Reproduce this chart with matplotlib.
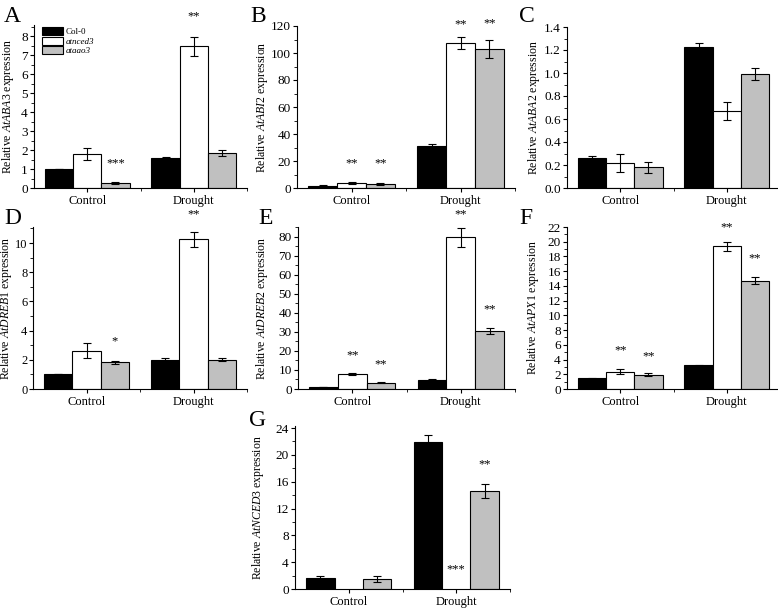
import matplotlib
matplotlib.use("Agg")
import matplotlib.pyplot as plt
from matplotlib.ticker import MultipleLocator, FixedLocator
import numpy as np

plt.rcParams['font.family'] = ['Liberation Serif', 'DejaVu Serif']
plt.rcParams['mathtext.fontset'] = 'custom'
plt.rcParams['mathtext.rm'] = 'Liberation Serif'
plt.rcParams['mathtext.it'] = 'Liberation Serif:italic'

groups = ["Control", "Drought"]
genotypes = ["Col-0", "atnced3", "ataao3"]
colors = ["black", "white", "#c0c0c0"]

# panel data: values[genotype][group], errors[genotype][group]
A_vals = [[1.0, 1.58], [1.8, 7.45], [0.27, 1.85]]
A_errs = [[0.0, 0.07], [0.3, 0.5], [0.04, 0.15]]
B_vals = [[1.5, 31.0], [3.8, 107.5], [3.0, 103.0]]
B_errs = [[0.5, 1.5], [0.8, 4.5], [0.8, 6.5]]
C_vals = [[0.26, 1.23], [0.22, 0.67], [0.18, 0.99]]
C_errs = [[0.015, 0.03], [0.08, 0.075], [0.05, 0.05]]
D_vals = [[1.0, 1.97], [2.62, 10.25], [1.82, 2.02]]
D_errs = [[0.0, 0.13], [0.5, 0.5], [0.1, 0.08]]
E_vals = [[1.0, 4.8], [7.8, 79.5], [3.3, 30.5]]
E_errs = [[0.0, 0.2], [0.5, 4.8], [0.3, 1.5]]
F_vals = [[1.45, 3.2], [2.35, 19.4], [1.95, 14.7]]
F_errs = [[0.05, 0.1], [0.3, 0.6], [0.2, 0.5]]
G_vals = [[1.6, 21.9], [0.0, 0.0], [1.55, 14.6]]
G_errs = [[0.3, 1.1], [0.0, 0.0], [0.45, 1.1]]

# significance marks: (genotype index, group index, text, y position)
A_sig = [(2, 0, "***", 1.3), (1, 1, "**", 9.05)]
B_sig = [(1, 0, "**", 18.5), (2, 0, "**", 18.5), (1, 1, "**", 121), (2, 1, "**", 122)]
C_sig = []
D_sig = [(2, 0, "*", 3.25), (1, 1, "**", 12.0)]
E_sig = [(1, 0, "**", 17.5), (2, 0, "**", 12.8), (1, 1, "**", 91.5), (2, 1, "**", 41.8)]
F_sig = [(1, 0, "**", 5.2), (2, 0, "**", 4.5), (1, 1, "**", 21.9), (2, 1, "**", 17.8)]
G_sig = [(1, 1, "***", 3.0), (2, 1, "**", 18.6)]

W, H = 778, 609
fig = plt.figure(figsize=(W / 100, H / 100), dpi=100)

def ax_px(l, t, r, b):
    return fig.add_axes([l / W, 1 - b / H, (r - l) / W, (b - t) / H])

panels = [
    ("A", (34, 25, 247, 188), A_vals, A_errs, A_sig, "AtABA3", 8.58, 1, 0.5, (4, 6), 16),
    ("B", (297, 26, 515, 188), B_vals, B_errs, B_sig, "AtABI2", 120, 20, 10, (250, 6), 270),
    ("C", (567, 27, 780, 188), C_vals, C_errs, C_sig, "AtABA2", 1.4, 0.2, 0.1, (519, 6), 542),
    ("D", (33, 227, 247, 389), D_vals, D_errs, D_sig, "AtDREB1", 11.1, 2, 1, (4, 208), 14.5),
    ("E", (298, 227, 515, 389), E_vals, E_errs, E_sig, "AtDREB2", 85, 10, 5, (258, 208), 270),
    ("F", (567, 227, 780, 389), F_vals, F_errs, F_sig, "AtAPX1", 22, 2, 1, (519, 208), 541),
    ("G", (295, 426, 510, 589), G_vals, G_errs, G_sig, "AtNCED3", 24.3, 4, 2, (249, 410), 266),
]

bw = 0.265
x = np.arange(len(groups))
for label, box, vals, errs, sigs, gene, ymax, major, minor, lpos, ylx in panels:
    ax = ax_px(*box)
    for i in range(3):
        xs = x + (i - 1) * bw
        if label == "G" and i == 1:
            continue
        ax.bar(xs, vals[i], bw, color=colors[i], edgecolor="black", linewidth=0.8,
               label=genotypes[i], zorder=2)
        ax.errorbar(xs, vals[i], yerr=errs[i], fmt="none", ecolor="black",
                    elinewidth=0.8, capsize=3, capthick=0.8, zorder=3)
    for gi, grp, txt, yv in sigs:
        ax.text(x[grp] + (gi - 1) * bw, yv, txt, ha="center", va="center",
                fontsize=9, clip_on=False)
    ax.set_xlim(-0.5, 1.5)
    ax.set_ylim(0, ymax)
    ax.set_xticks(x)
    ax.set_xticklabels(groups, fontsize=9)
    ax.xaxis.set_minor_locator(FixedLocator([0.5, 1.5]))
    ax.yaxis.set_major_locator(MultipleLocator(major))
    ax.yaxis.set_minor_locator(MultipleLocator(minor))
    if label == "C":
        ax.yaxis.set_major_formatter(matplotlib.ticker.FormatStrFormatter("%.1f"))
    ax.tick_params(axis="both", which="major", direction="out", length=3, width=0.8,
                   labelsize=9.5, pad=1.5)
    if label == "D":
        ax.tick_params(axis="y", pad=1.0, labelsize=9)
    ax.tick_params(axis="x", labelsize=9, pad=2)
    ax.tick_params(axis="both", which="minor", direction="out", length=2, width=0.6)
    for s in ["top", "right"]:
        ax.spines[s].set_visible(False)
    for s in ["left", "bottom"]:
        ax.spines[s].set_linewidth(0.8)
    ax.set_ylabel(r"Relative $\mathit{" + gene + r"}$ expression", fontsize=8.5)
    ax.yaxis.set_label_coords((ylx - box[0]) / (box[2] - box[0]), 0.5)
    fig.text(lpos[0] / W, 1 - lpos[1] / H, label, fontsize=17, va="top", ha="left")
    if label == "A":
        leg = ax.legend(loc="upper left", bbox_to_anchor=(0.01, 1.02), frameon=False,
                        fontsize=6.5, handlelength=2.4, handleheight=1.0,
                        labelspacing=0.05, handletextpad=0.3, borderaxespad=0.2)
        for t in leg.get_texts()[1:]:
            t.set_fontstyle("italic")

fig.savefig("out.png", dpi=100)
